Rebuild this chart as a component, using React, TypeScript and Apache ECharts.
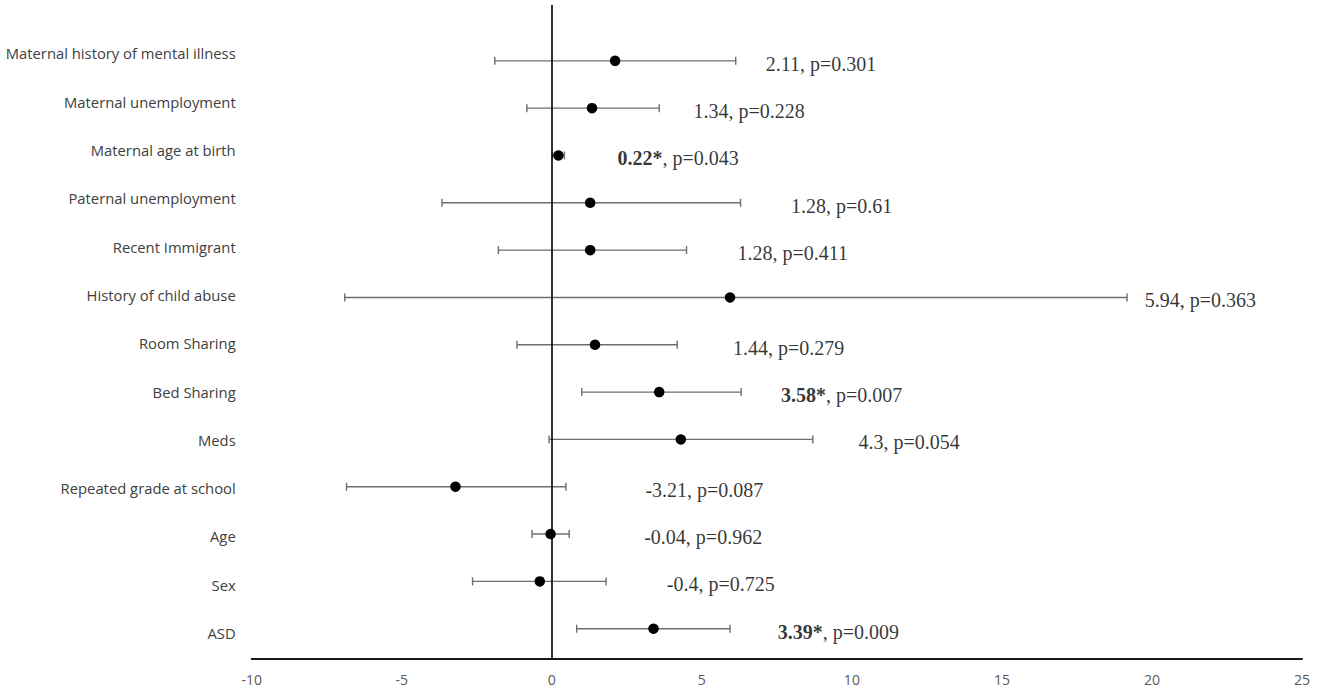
import React, { useEffect, useRef } from "react";
import * as echarts from "echarts";

const categories = [
  "Maternal history of mental illness",
  "Maternal unemployment",
  "Maternal age at birth",
  "Paternal unemployment",
  "Recent Immigrant",
  "History of child abuse",
  "Room Sharing",
  "Bed Sharing",
  "Meds",
  "Repeated grade at school",
  "Age",
  "Sex",
  "ASD",
];
const estimates = [2.11, 1.34, 0.22, 1.28, 1.28, 5.94, 1.44, 3.58, 4.3, -3.21, -0.04, -0.4, 3.39];
const lower = [-1.9, -0.83, 0.02, -3.66, -1.78, -6.9, -1.16, 1.0, -0.09, -6.84, -0.66, -2.64, 0.83];
const upper = [6.13, 3.58, 0.42, 6.29, 4.49, 19.17, 4.18, 6.31, 8.7, 0.47, 0.58, 1.81, 5.94];
const pValues = ["0.301", "0.228", "0.043", "0.61", "0.411", "0.363", "0.279", "0.007", "0.054", "0.087", "0.962", "0.725", "0.009"];
const significant = [false, false, true, false, false, false, false, true, false, false, false, false, true];
const labelAnchor = [7.13, 4.72, 2.19, 7.97, 6.19, 19.76, 6.04, 7.64, 10.22, 3.12, 3.08, 3.83, 7.53];
const xTicks = { min: -10, max: 25, interval: 5 };

const n = categories.length;
const rowOf = (i: number) => n - 1 - i;

export default function App() {
  const ref = useRef<HTMLDivElement>(null);
  useEffect(() => {
    if (!ref.current) return;
    const chart = echarts.init(ref.current, null, { renderer: "svg" });
    const option: any = {
      animation: false,
      backgroundColor: "#ffffff",
      grid: [
        { left: 251.7, right: 23, top: 5, bottom: 41 },
        { left: 251.7, right: 23, top: 29.2, bottom: 42.8 },
      ],
      xAxis: [
        {
          gridIndex: 0,
          type: "value",
          min: xTicks.min,
          max: xTicks.max,
          interval: xTicks.interval,
          axisLine: { show: true, onZero: false, lineStyle: { color: "#1a1a1a", width: 2 } },
          axisTick: { show: false },
          splitLine: { show: false },
          axisLabel: { color: "#595959", fontSize: 14, fontFamily: "Open Sans", margin: 13 },
        },
        { gridIndex: 1, type: "value", show: false, min: xTicks.min, max: xTicks.max },
      ],
      yAxis: [
        { gridIndex: 0, type: "value", show: false, min: -0.64, max: 13.18 },
        {
          gridIndex: 1,
          type: "category",
          inverse: true,
          data: categories,
          axisLine: { show: false },
          axisTick: { show: false },
          splitLine: { show: false },
          axisLabel: { color: "#404040", fontSize: 14.8, fontFamily: "Open Sans", margin: 16 },
        },
      ],
      series: [
        {
          type: "custom",
          xAxisIndex: 0,
          yAxisIndex: 0,
          silent: true,
          data: categories.map((_, i) => [lower[i], upper[i], rowOf(i)]),
          renderItem: (params: any, api: any) => {
            const lo = api.coord([api.value(0), api.value(2)]);
            const hi = api.coord([api.value(1), api.value(2)]);
            const c = 4;
            const style = { stroke: "#6e6e6e", lineWidth: 1.4 };
            return {
              type: "group",
              children: [
                { type: "line", shape: { x1: lo[0], y1: lo[1], x2: hi[0], y2: hi[1] }, style },
                { type: "line", shape: { x1: lo[0], y1: lo[1] - c, x2: lo[0], y2: lo[1] + c }, style },
                { type: "line", shape: { x1: hi[0], y1: hi[1] - c, x2: hi[0], y2: hi[1] + c }, style },
              ],
            };
          },
          encode: { x: [0, 1], y: 2 },
          z: 2,
        },
        {
          type: "scatter",
          xAxisIndex: 0,
          yAxisIndex: 0,
          silent: true,
          symbol: "circle",
          symbolSize: 10.5,
          itemStyle: { color: "#000000", opacity: 1 },
          data: categories.map((_, i) => [estimates[i], rowOf(i)]),
          markLine: {
            silent: true,
            symbol: "none",
            label: { show: false },
            lineStyle: { color: "#000000", width: 1.6, type: "solid" },
            data: [{ xAxis: 0 }],
          },
          z: 3,
        },
        {
          type: "scatter",
          xAxisIndex: 0,
          yAxisIndex: 0,
          silent: true,
          symbolSize: 0,
          data: categories.map((_, i) => [labelAnchor[i], rowOf(i)]),
          label: {
            show: true,
            position: "right",
            distance: 0,
            offset: [0, 3],
            formatter: (p: any) => {
              const i = p.dataIndex;
              const est = String(estimates[i]);
              return significant[i]
                ? `{b|${est}*}{r|, p=${pValues[i]}}`
                : `{r|${est}, p=${pValues[i]}}`;
            },
            rich: {
              r: { fontFamily: "Liberation Serif", fontSize: 20, color: "#000000" },
              b: { fontFamily: "Liberation Serif", fontSize: 20, fontWeight: "bold", color: "#000000" },
            },
          },
          z: 4,
        },
      ],
    };
    chart.setOption(option);
    return () => chart.dispose();
  }, []);
  return (
    <div
      ref={ref}
      style={{ position: "fixed", left: 0, top: 0, width: "1325px", height: "700px", background: "#fff" }}
    />
  );
}
